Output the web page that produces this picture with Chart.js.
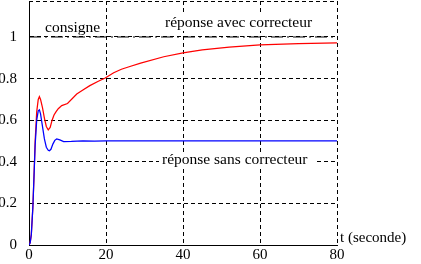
<!DOCTYPE html>
<html>
<head>
<meta charset="utf-8">
<script src="https://cdn.jsdelivr.net/npm/chart.js@4"></script>
<style>
  html, body { margin:0; padding:0; background:#fff; }
  canvas { display:block; }
</style>
</head>
<body>
<canvas id="chart" width="421" height="264"></canvas>
<script>
// step response, with and without the corrector
const tAvec = [0,0.3,0.6,1,1.3,1.6,2,2.4,2.7,3,3.5,4,4.5,5,5.5,6,6.5,7,7.6,8.5,10,12.4,14,15.8,18,19.8,22,24,26,29,35,40,45,52,60,70,80];
const yAvec = [0,0.01,0.05,0.18,0.33,0.5,0.64,0.7,0.713,0.7,0.66,0.61,0.57,0.553,0.565,0.6,0.625,0.64,0.655,0.67,0.68,0.726,0.745,0.766,0.787,0.803,0.828,0.845,0.857,0.874,0.905,0.924,0.938,0.951,0.962,0.968,0.972];

const tSans = [0,0.3,0.6,1,1.3,1.6,2,2.4,2.7,3,3.5,4,4.5,5,5.3,5.7,6.2,6.7,7.2,8,9,11,14,17,20,23,26,80];
const ySans = [0,0.01,0.05,0.18,0.33,0.48,0.6,0.645,0.65,0.63,0.57,0.51,0.47,0.455,0.453,0.46,0.485,0.503,0.51,0.505,0.497,0.498,0.501,0.499,0.5,0.501,0.5,0.5];

const tConsigne = [0,80];
const yConsigne = [1,1];

const yTicks = [0,0.2,0.4,0.6,0.8,1];

const FONT = "Liberation Serif";

function pts(t, y){
    return t.map((v,i)=>({x:v, y:y[i]}));
}

// texts drawn on the plot
const notes = {
    id:"notes",
    afterDatasetsDraw(chart){
        const c = chart.ctx;
        const a = chart.chartArea;
        c.save();

        // dashed top border
        c.strokeStyle = "#000";
        c.lineWidth = 1;
        c.setLineDash([4,3]);
        c.beginPath();
        c.moveTo(a.left, a.top + 0.5);
        c.lineTo(a.right, a.top + 0.5);
        c.stroke();
        c.setLineDash([]);

        c.font = "15.5px '" + FONT + "'";
        c.textBaseline = "alphabetic";

        function label(txt, x, y, bg){
            if(bg){
                c.fillStyle = "#fff";
                c.fillRect(bg[0], bg[1], bg[2], bg[3]);
            }
            c.fillStyle = "#000";
            c.fillText(txt, x, y);
        }

        label("consigne", 45, 32, [42, 20, 56, 15]);
        label("réponse avec correcteur", 165, 27, [160, 12, 156, 19]);
        label("réponse sans correcteur", 162, 164, [159, 152, 155, 16]);
        c.font = "15px '" + FONT + "'";
        label("t (seconde)", 340, 242, null);

        c.restore();
    }
};

const ctx = document.getElementById("chart").getContext("2d");

new Chart(ctx,{

    type:"line",

    data:{
        datasets:[
            {
                label:"sans correcteur",
                data:pts(tSans, ySans),
                borderColor:"#0000ff",
                borderWidth:1.25,
                pointRadius:0,
                tension:0
            },
            {
                label:"avec correcteur",
                data:pts(tAvec, yAvec),
                borderColor:"#ff0000",
                borderWidth:1.25,
                pointRadius:0,
                tension:0
            },
            {
                label:"consigne",
                data:pts(tConsigne, yConsigne),
                borderColor:"#000",
                borderWidth:1,
                borderDash:[12,4,2,4],
                pointRadius:0
            }
        ]
    },

    options:{
        responsive:false,
        animation:false,
        devicePixelRatio:1,
        layout:{ padding:{ top:1, right:84, left:0, bottom:0 } },
        plugins:{
            legend:{ display:false },
            tooltip:{ enabled:false }
        },
        scales:{
            x:{
                type:"linear",
                min:0,
                max:80,
                ticks:{
                    stepSize:20,
                    color:"#000",
                    padding:1,
                    maxRotation:0,
                    font:{ family:FONT, size:15 }
                },
                grid:{
                    color:"#000",
                    lineWidth:1,
                    drawTicks:false
                },
                border:{ display:true, color:"#000", width:1, dash:[4,3] },
                afterFit(s){
                    s.height = 19;
                    s.paddingLeft = 0; s.paddingRight = 0;
                    s.paddingTop = 0; s.paddingBottom = 0;
                }
            },
            y:{
                min:0,
                max:1.173,
                afterBuildTicks(s){
                    s.ticks = yTicks.map(v=>({value:v}));
                },
                ticks:{
                    color:"#000",
                    padding:12,
                    font:{ family:FONT, size:15 },
                    callback:(v)=>String(v)
                },
                grid:{
                    color:"#000",
                    lineWidth:1,
                    drawTicks:false
                },
                border:{ display:true, color:"#000", width:1, dash:[4,3] },
                afterFit(s){
                    s.width = 29;
                    s.paddingLeft = 0; s.paddingRight = 0;
                    s.paddingTop = 0; s.paddingBottom = 0;
                }
            }
        }
    },

    plugins:[notes]

});
</script>
</body>
</html>
